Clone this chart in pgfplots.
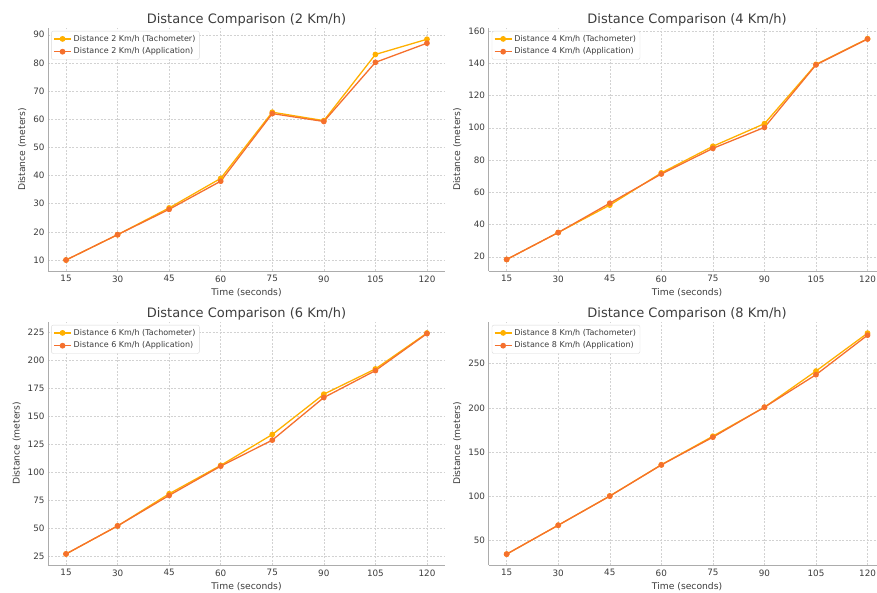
\documentclass[border=0pt]{standalone}
\usepackage{fontspec}
\setmainfont{DejaVu Sans}
\usepackage{pgfplots}
\pgfplotsset{compat=1.18}
\definecolor{tach}{RGB}{255,176,0}
\definecolor{app}{RGB}{245,112,45}
\definecolor{txt}{RGB}{60,60,60}
\pgfplotsset{
  panel/.style={
    scale only axis,
    width=397pt, height=243pt,
    xmin=9.75, xmax=125.25,
    xtick={15,30,45,60,75,90,105,120},
    axis x line*=bottom, axis y line*=left,
    axis line style={draw=gray!65, line width=0.6pt, -},
    major tick length=0pt,
    grid=major,
    major grid style={dash pattern=on 2pt off 1.5pt, draw=gray!35, line width=0.45pt},
    /pgf/number format/assume math mode=true,
    ticklabel style={font=\fontsize{8.8}{10}\selectfont, text=txt},
    xticklabel style={yshift=-1pt},
    xlabel={Time (seconds)}, ylabel={Distance (meters)},
    label style={font=\fontsize{9.2}{10}\selectfont, text=txt},
    xlabel style={yshift=1pt},
    ylabel style={yshift=0pt},
    title style={font=\fontsize{13}{14}\selectfont, text=txt, yshift=-8pt},
    legend style={font=\fontsize{8}{9}\selectfont, text=txt, draw=gray!30, rounded corners=2pt,
      at={(0.008,0.988)}, anchor=north west, inner sep=2pt, row sep=1.2pt},
    legend cell align=left,
    every axis plot/.append style={line width=1.3pt, mark=*, mark size=2.2pt},
  },
}
\begin{document}
\begin{tikzpicture}[x=1pt,y=1pt]
\useasboundingbox (0,0) rectangle (877,592);
% top-left
\begin{axis}[panel, at={(48pt,321pt)}, anchor=south west,
  title={Distance Comparison (2 Km/h)},
  ymin=6.1, ymax=92.4, ytick={10,20,...,90}]
\addplot[color=tach, mark options={fill=tach}] coordinates {(15,10)(30,19)(45,28.5)(60,39)(75,62.5)(90,59.5)(105,83)(120,88.4)};
\addplot[color=app, mark options={fill=app}] coordinates {(15,10)(30,19)(45,28)(60,38)(75,62)(90,59.2)(105,80.2)(120,87)};
\legend{Distance 2 Km/h (Tachometer), Distance 2 Km/h (Application)}
\end{axis}
% top-right
\begin{axis}[panel, at={(488.6pt,321pt)}, anchor=south west,
  title={Distance Comparison (4 Km/h)},
  ymin=11.15, ymax=161.85, ytick={20,40,...,160}]
\addplot[color=tach, mark options={fill=tach}] coordinates {(15,18.3)(30,35)(45,52)(60,72)(75,88.5)(90,102.5)(105,139.3)(120,155.2)};
\addplot[color=app, mark options={fill=app}] coordinates {(15,18.3)(30,35)(45,53.2)(60,71.3)(75,87.2)(90,100.2)(105,139)(120,155)};
\legend{Distance 4 Km/h (Tachometer), Distance 4 Km/h (Application)}
\end{axis}
% bottom-left
\begin{axis}[panel, at={(48pt,27pt)}, anchor=south west,
  title={Distance Comparison (6 Km/h)},
  ymin=17.15, ymax=233.85, ytick={25,50,...,225}]
\addplot[color=tach, mark options={fill=tach}] coordinates {(15,27)(30,52)(45,80.7)(60,106)(75,133.5)(90,169.5)(105,192)(120,224)};
\addplot[color=app, mark options={fill=app}] coordinates {(15,27)(30,52)(45,79.2)(60,105.3)(75,128.5)(90,166.5)(105,190.5)(120,223.5)};
\legend{Distance 6 Km/h (Tachometer), Distance 6 Km/h (Application)}
\end{axis}
% bottom-right
\begin{axis}[panel, at={(488.6pt,27pt)}, anchor=south west,
  title={Distance Comparison (8 Km/h)},
  ymin=22.3, ymax=297.2, ytick={50,100,...,250}]
\addplot[color=tach, mark options={fill=tach}] coordinates {(15,34.6)(30,67.3)(45,100.4)(60,135.7)(75,168)(90,200.8)(105,241.7)(120,284.6)};
\addplot[color=app, mark options={fill=app}] coordinates {(15,34.6)(30,67.3)(45,100.2)(60,135.5)(75,166.9)(90,200.8)(105,237.6)(120,282.3)};
\legend{Distance 8 Km/h (Tachometer), Distance 8 Km/h (Application)}
\end{axis}
\end{tikzpicture}
\end{document}
